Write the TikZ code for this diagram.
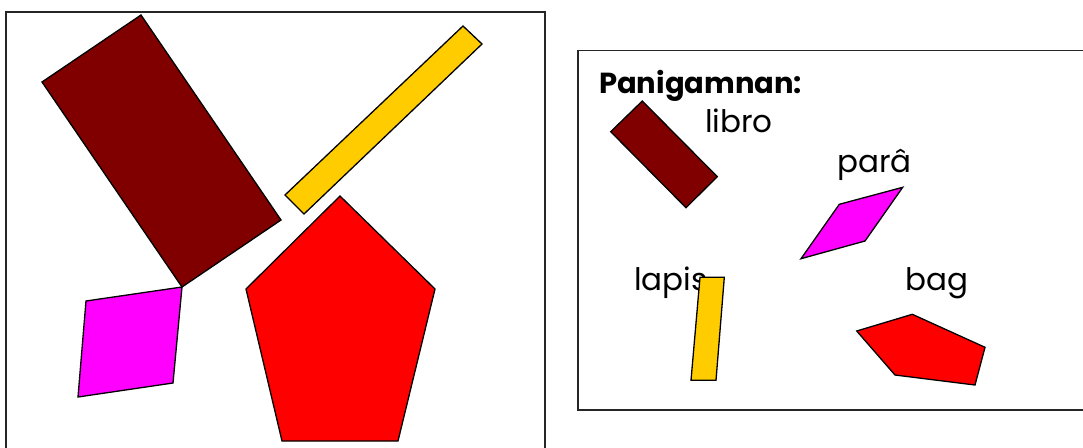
\documentclass[tikz,border=0pt]{standalone}
\usepackage{fontspec}
\setmainfont{Poppins}
\definecolor{brownc}{HTML}{800000}
\definecolor{yellowc}{HTML}{FFCC00}
\definecolor{magentac}{HTML}{FF00FF}
\definecolor{redc}{HTML}{FF0000}
\begin{document}
\begin{tikzpicture}[x=1pt,y=-1pt,
  shp/.style={draw=black,line width=1.3pt,line join=miter},
  frame/.style={draw=black!85,line width=1.5pt},
  lbl/.style={anchor=base west,inner sep=0pt,font=\fontsize{31}{31}\selectfont},
  ttl/.style={anchor=base west,inner sep=0pt,font=\bfseries\fontsize{29}{29}\selectfont}]
\useasboundingbox (0,0) rectangle (1083,447);
% frames
\draw[frame] (6,460) -- (6,12) -- (545,12) -- (545,460);
\draw[frame] (1100,50.7) -- (578,50.7) -- (578,410) -- (1100,410);
% left big shapes
\filldraw[shp,fill=brownc] (42,82) -- (141,15) -- (281,220) -- (182,287) -- cycle;
\filldraw[shp,fill=yellowc] (285,195) -- (463,26) -- (482,44) -- (304,214) -- cycle;
\filldraw[shp,fill=redc] (340,196) -- (435,289) -- (398,441) -- (282,441) -- (246,289) -- cycle;
\filldraw[shp,fill=magentac] (86,301) -- (182,287) -- (173,383) -- (78,397) -- cycle;
% legend
\node[ttl] (title) at (599,93) {Panigamnan:};
\filldraw[shp,fill=brownc] (610.7,131.7) -- (642.3,101) -- (717.3,176.7) -- (686,207.7) -- cycle;
\node[lbl] (libro) at (705,132.7) {libro};
\node[lbl] (para) at (837,172.7) {parâ};
\filldraw[shp,fill=magentac] (839.3,204.3) -- (902.7,187.3) -- (865,241) -- (801,258.7) -- cycle;
\node[lbl] (lapis) at (634,290.7) {lapis};
\node[lbl] (bag) at (905,290.7) {bag};
\filldraw[shp,fill=yellowc] (700,277.3) -- (724.3,277.3) -- (716,380.3) -- (691,380.3) -- cycle;
\filldraw[shp,fill=redc] (856.7,331) -- (912.3,314.3) -- (985,347.3) -- (975,385) -- (895,375) -- cycle;
\end{tikzpicture}
\end{document}
